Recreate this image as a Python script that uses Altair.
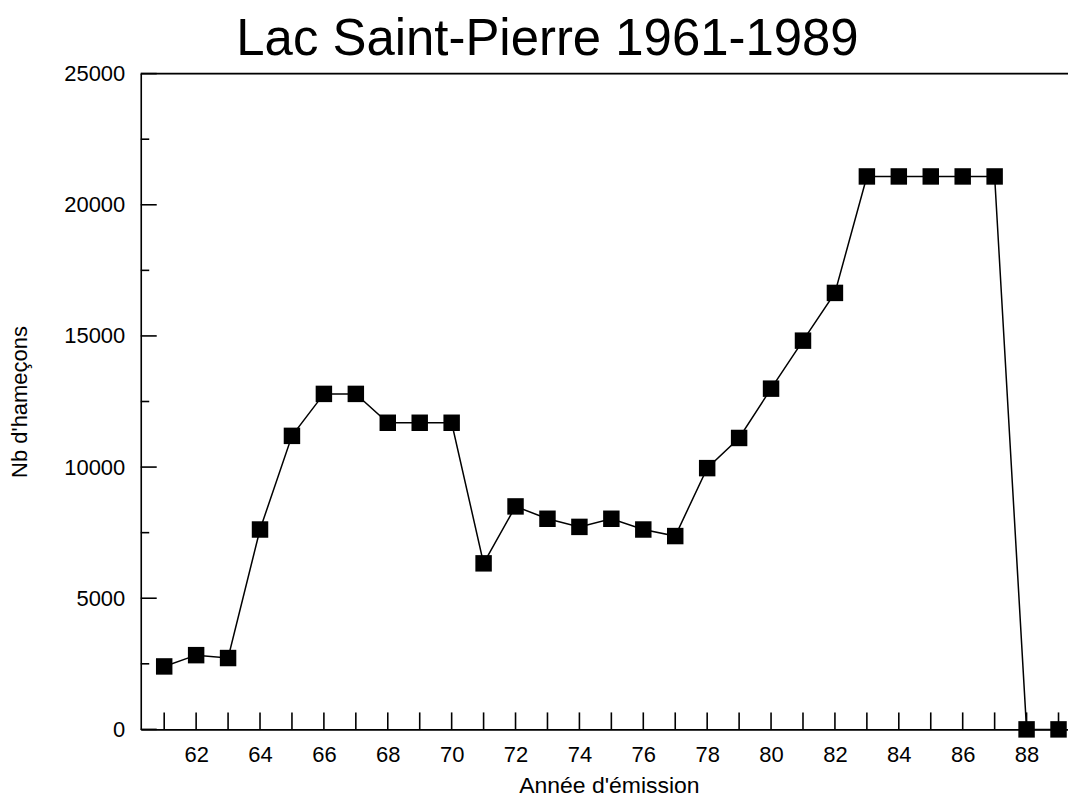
import altair as alt
import pandas as pd

title_text = "Lac Saint-Pierre 1961-1989"
x_title = "Année d'émission"
y_title = "Nb d'hameçons"

years = list(range(61, 90))
hooks = [2400, 2830, 2720, 7620, 11190, 12790, 12790, 11690, 11690, 11690,
         6330, 8500, 8030, 7720, 8030, 7620, 7370, 9960, 11110, 12990,
         14820, 16640, 21080, 21080, 21080, 21080, 21080, 0, 0]
x_tick_labels = list(range(62, 89, 2))
x_tick_positions = list(range(61, 90))
y_major = [0, 5000, 10000, 15000, 20000, 25000]
y_minor = [2500, 7500, 12500, 17500, 22500]

W = 929
H = 657
FONT = "Liberation Sans"

df = pd.DataFrame({"year": years, "hooks": hooks})
xscale = alt.Scale(domain=[60.266, 89.297], nice=False, zero=False)
yscale = alt.Scale(domain=[0, 25000], nice=False, zero=True)

x_enc = alt.X(
    "year:Q", scale=xscale,
    axis=alt.Axis(
        values=x_tick_labels, ticks=False, grid=False,
        domainColor="black", domainWidth=1.6,
        labelFont=FONT, labelFontSize=22, labelColor="black",
        labelBaseline="alphabetic", labelPadding=32,
        labelFlush=False, labelOverlap=False,
        title=x_title, titleFont=FONT, titleFontSize=23,
        titleFontWeight="normal", titleColor="black",
        titleX=469, titleY=63, titleBaseline="alphabetic", titleAlign="center",
    ),
)
y_enc = alt.Y(
    "hooks:Q", scale=yscale,
    axis=alt.Axis(
        values=y_major, ticks=False, grid=False, format="d",
        domainColor="black", domainWidth=1.6,
        labelFont=FONT, labelFontSize=22, labelColor="black",
        labelPadding=16, labelFlush=False, labelOverlap=False,
        title=y_title, titleFont=FONT, titleFontSize=22,
        titleFontWeight="normal", titleColor="black",
        titleX=-114, titleY=H / 2, titleBaseline="alphabetic", titleAlign="center",
    ),
)

line = alt.Chart(df).mark_line(color="black", strokeWidth=1.5).encode(x=x_enc, y=y_enc)
points = alt.Chart(df).mark_square(size=272, color="black", opacity=1, filled=True).encode(x=x_enc, y=y_enc)

xt = alt.Chart(pd.DataFrame({"year": x_tick_positions})).mark_rule(
    color="black", strokeWidth=1.6
).encode(x=x_enc, y=alt.value(H), y2=alt.value(H - 17))

ymaj = alt.Chart(pd.DataFrame({"hooks": y_major})).mark_rule(
    color="black", strokeWidth=1.6
).encode(y=y_enc, x=alt.value(0), x2=alt.value(16))

ymin = alt.Chart(pd.DataFrame({"hooks": y_minor})).mark_rule(
    color="black", strokeWidth=1.6
).encode(y=y_enc, x=alt.value(0), x2=alt.value(8.5))

top = alt.Chart(pd.DataFrame({"frame": [0]})).mark_rule(
    color="black", strokeWidth=1.6
).encode(x=alt.value(0), x2=alt.value(W), y=alt.value(0))

title = alt.Chart(pd.DataFrame({"t": [title_text]})).mark_text(
    font=FONT, fontSize=51, fontWeight="normal", color="black",
    align="center", baseline="alphabetic",
).encode(text="t:N", x=alt.value(W / 2 - 57), y=alt.value(-18.5))

chart = alt.layer(xt, ymaj, ymin, top, line, points, title).properties(
    width=W,
    height=H,
    padding={"left": 133, "top": 65, "right": 0, "bottom": 68},
    autosize=alt.AutoSizeParams(type="none"),
).configure_view(stroke=None).configure(background="white")

chart.save("out.html", embed_options={"renderer": "svg", "actions": False})
